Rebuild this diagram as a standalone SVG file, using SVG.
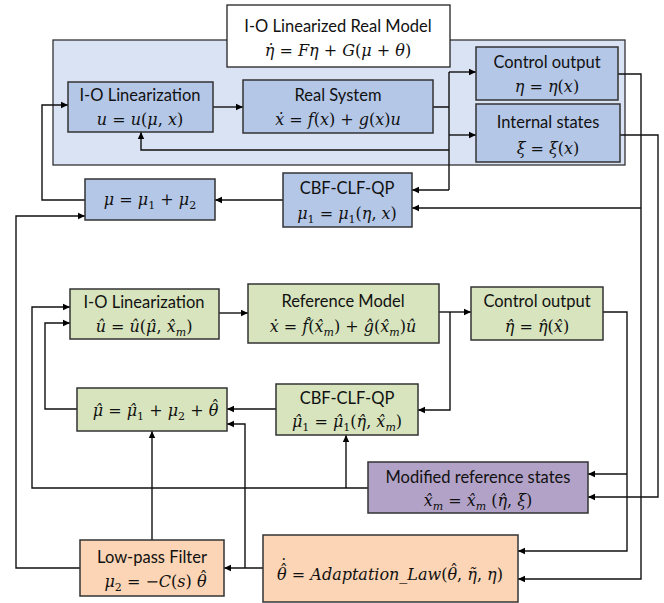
<svg xmlns="http://www.w3.org/2000/svg" width="664" height="603" viewBox="0 0 664 603">
<defs>
<marker id="ah" markerWidth="8" markerHeight="8" refX="7" refY="4" orient="auto" markerUnits="userSpaceOnUse">
<path d="M0,0.8 L7,4 L0,7.2 Z" fill="#000"/>
</marker>
<style>
.t{font-family:Lato,"Liberation Sans",sans-serif;font-size:16.5px;fill:#111;text-anchor:middle}
.m{font-family:"DejaVu Serif",serif;font-size:16px;fill:#111;text-anchor:middle}
.i{font-style:italic}
.s{font-size:11px}
.bx{stroke:#333;stroke-width:1.5}
.blue{fill:#b4c7e7}
.green{fill:#d7e4bd}
.purple{fill:#b3a2c7}
.orange{fill:#fbd5b5}
.c{fill:none;stroke:#111;stroke-width:1.4}
.a{fill:none;stroke:#111;stroke-width:1.4;marker-end:url(#ah)}
</style>
</defs>
<rect width="664" height="603" fill="#fff"/>
<g id="panel"><rect x="53" y="40" width="572" height="125" fill="#dae3f3" stroke="#333" stroke-width="1.3"/></g>
<g id="title"><rect x="227" y="5" width="223" height="62" fill="#fff" stroke="#222" stroke-width="1.3"/>
<text class="t" x="338" y="32">I-O Linearized Real Model</text>
<text class="m" x="338" y="56"><tspan class="i">η̇</tspan> = <tspan class="i">Fη</tspan> + <tspan class="i">G</tspan>(<tspan class="i">μ</tspan> + <tspan class="i">θ</tspan>)</text></g>

<g id="connectors">
<path class="a" d="M213,107 H243"/>
<path class="c" d="M433,107 H449 M449,72 V190"/>
<path class="a" d="M449,72 H476"/>
<path class="a" d="M449,135 H476"/>
<path class="a" d="M449,190 H412"/>
<path class="a" d="M449,150 H141 V132"/>
<path class="a" d="M283,200 H215"/>
<path class="a" d="M85,200 H42 V105 H68"/>
<path class="a" d="M618,74 H641 V579 H518"/>
<path class="a" d="M641,208 H412"/>
<path class="a" d="M620,135 H658 V497 H588"/>
<path class="a" d="M219,313 H248"/>
<path class="a" d="M439,312 H471"/>
<path class="a" d="M450,312 V410 H418"/>
<path class="a" d="M276,409 H227"/>
<path class="a" d="M77,409 H45 V323 H70"/>
<path class="a" d="M603,312 H627 V551 H518"/>
<path class="a" d="M627,474 H588"/>
<path class="a" d="M368,488 H32 V307 H70"/>
<path class="a" d="M346,488 V435"/>
<path class="a" d="M263,568 H224"/>
<path class="a" d="M245,568 V424 H227"/>
<path class="a" d="M152,540 V431"/>
<path class="a" d="M80,568 H16 V216 H85"/>
</g>

<g id="io-lin"><rect class="bx blue" x="68" y="82" width="145" height="50"/>
<text class="t" x="140" y="101">I-O Linearization</text>
<text class="m" x="140" y="125"><tspan class="i">u</tspan> = <tspan class="i">u</tspan>(<tspan class="i">μ</tspan>, <tspan class="i">x</tspan>)</text></g>

<g id="real-system"><rect class="bx blue" x="243" y="80" width="190" height="53"/>
<text class="t" x="338" y="101">Real System</text>
<text class="m" x="338" y="125"><tspan class="i">ẋ</tspan> = <tspan class="i">f</tspan>(<tspan class="i">x</tspan>) + <tspan class="i">g</tspan>(<tspan class="i">x</tspan>)<tspan class="i">u</tspan></text></g>

<g id="control-output"><rect class="bx blue" x="476" y="47" width="142" height="53"/>
<text class="t" x="547" y="68">Control output</text>
<text class="m" x="547" y="92"><tspan class="i">η</tspan> = <tspan class="i">η</tspan>(<tspan class="i">x</tspan>)</text></g>

<g id="internal-states"><rect class="bx blue" x="476" y="104" width="144" height="58"/>
<text class="t" x="548" y="128">Internal states</text>
<text class="m" x="548" y="154"><tspan class="i">ξ</tspan> = <tspan class="i">ξ</tspan>(<tspan class="i">x</tspan>)</text></g>

<g id="cbf"><rect class="bx blue" x="283" y="173" width="129" height="54"/>
<text class="t" x="347" y="194">CBF-CLF-QP</text>
<text class="m" x="347" y="219"><tspan class="i">μ</tspan><tspan class="s" dy="4">1</tspan><tspan dy="-4"> = </tspan><tspan class="i">μ</tspan><tspan class="s" dy="4">1</tspan><tspan dy="-4">(</tspan><tspan class="i">η</tspan>, <tspan class="i">x</tspan>)</text></g>

<g id="mu-sum"><rect class="bx blue" x="85" y="179" width="130" height="41"/>
<text class="m" x="150" y="205"><tspan class="i">μ</tspan> = <tspan class="i">μ</tspan><tspan class="s" dy="4">1</tspan><tspan dy="-4"> + </tspan><tspan class="i">μ</tspan><tspan class="s" dy="4">2</tspan></text></g>

<g id="io-lin-ref"><rect class="bx green" x="70" y="289" width="149" height="50"/>
<text class="t" x="144" y="308">I-O Linearization</text>
<text class="m" x="144" y="332"><tspan class="i">û</tspan> = <tspan class="i">û</tspan>(<tspan class="i">μ̂</tspan>, <tspan class="i">x̂</tspan><tspan class="s i" dy="4">m</tspan><tspan dy="-4">)</tspan></text></g>

<g id="reference-model"><rect class="bx green" x="248" y="284" width="191" height="59"/>
<text class="t" x="343" y="307">Reference Model</text>
<text class="m" x="343" y="332"><tspan class="i">ẋ</tspan> = <tspan class="i">f̂</tspan>(<tspan class="i">x̂</tspan><tspan class="s i" dy="4">m</tspan><tspan dy="-4">) + </tspan><tspan class="i">ĝ</tspan>(<tspan class="i">x̂</tspan><tspan class="s i" dy="4">m</tspan><tspan dy="-4">)</tspan><tspan class="i">û</tspan></text></g>

<g id="control-output-ref"><rect class="bx green" x="471" y="287" width="132" height="53"/>
<text class="t" x="537" y="307">Control output</text>
<text class="m" x="537" y="332"><tspan class="i">η̂</tspan> = <tspan class="i">η̂</tspan>(<tspan class="i">x̂</tspan>)</text></g>

<g id="cbf-ref"><rect class="bx green" x="276" y="384" width="142" height="51"/>
<text class="t" x="347" y="404">CBF-CLF-QP</text>
<text class="m" x="347" y="427"><tspan class="i">μ̂</tspan><tspan class="s" dy="4">1</tspan><tspan dy="-4"> = </tspan><tspan class="i">μ̂</tspan><tspan class="s" dy="4">1</tspan><tspan dy="-4">(</tspan><tspan class="i">η̂</tspan>, <tspan class="i">x̂</tspan><tspan class="s i" dy="4">m</tspan><tspan dy="-4">)</tspan></text></g>

<g id="mu-hat-sum"><rect class="bx green" x="77" y="388" width="150" height="43"/>
<text class="m" x="156" y="416"><tspan class="i">μ̂</tspan> = <tspan class="i">μ̂</tspan><tspan class="s" dy="4">1</tspan><tspan dy="-4"> + </tspan><tspan class="i">μ</tspan><tspan class="s" dy="4">2</tspan><tspan dy="-4"> + </tspan><tspan class="i">θ</tspan><tspan dx="-7" dy="-4">ˆ</tspan></text></g>

<g id="modified-ref"><rect class="bx purple" x="368" y="462" width="220" height="51"/>
<text class="t" x="478" y="483">Modified reference states</text>
<text class="m" x="478" y="506"><tspan class="i">x̂</tspan><tspan class="s i" dy="4">m</tspan><tspan dy="-4"> = </tspan><tspan class="i">x̂</tspan><tspan class="s i" dy="4">m</tspan><tspan dy="-4"> (</tspan><tspan class="i">η̂</tspan>, <tspan class="i">ξ</tspan>)</text></g>

<g id="low-pass"><rect class="bx orange" x="80" y="540" width="144" height="56"/>
<text class="t" x="152" y="563">Low-pass Filter</text>
<text class="m" x="156" y="587"><tspan class="i">μ</tspan><tspan class="s" dy="4">2</tspan><tspan dy="-4"> = −</tspan><tspan class="i">C</tspan>(<tspan class="i">s</tspan>) <tspan class="i">θ</tspan><tspan dx="-7" dy="-4">ˆ</tspan></text></g>

<g id="adaptation"><rect class="bx orange" x="263" y="535" width="255" height="67"/>
<text class="m" x="390" y="580"><tspan class="i">θ</tspan><tspan dx="-7" dy="-4">ˆ</tspan><tspan dx="-8" dy="-5">˙</tspan><tspan dx="-1" dy="9"> = </tspan><tspan class="i">Adaptation_Law</tspan>(<tspan class="i">θ</tspan><tspan dx="-7" dy="-4">ˆ</tspan><tspan dx="-1" dy="4">, </tspan><tspan class="i">η̃</tspan>, <tspan class="i">η</tspan>)</text></g>
</svg>
